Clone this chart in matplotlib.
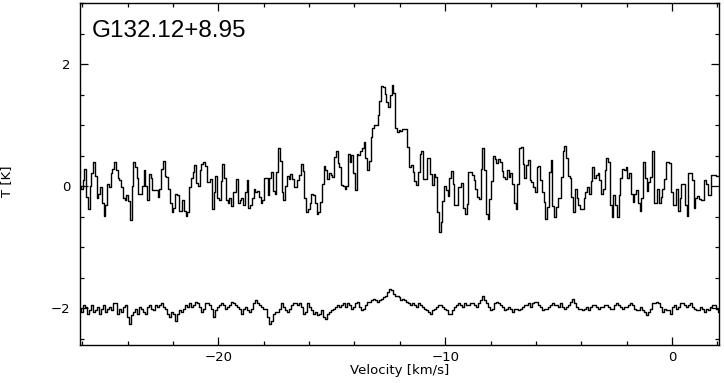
import numpy as np
import matplotlib
matplotlib.use("Agg")
import matplotlib.pyplot as plt
from matplotlib.ticker import MultipleLocator

# ---------------- data ----------------
title = "G132.12+8.95"
v_start = -26.1          # km/s, first channel
v_end = 2.07             # km/s, last channel

# upper spectrum, T [K]
t_upper = [
    0.00, -0.05, 0.10, 0.28, -0.17, -0.37, 0.00, 0.22, 0.40, 0.17,
    -0.20, -0.13, -0.02, -0.27, -0.48, -0.30, 0.04, -0.02, 0.22, 0.28,
    0.40, 0.27, 0.13, 0.10, -0.02, -0.20, -0.23, -0.15, -0.25, -0.56,
    0.00, 0.39, 0.31, 0.14, -0.12, -0.12, 0.00, 0.26, 0.00, -0.23,
    0.20, 0.13, -0.07, -0.07, -0.07, -0.17, -0.05, 0.28, 0.42, 0.16,
    0.15, -0.04, -0.27, -0.42, -0.36, -0.12, -0.15, -0.40,
    -0.40, -0.23, -0.40, -0.48, -0.43, -0.02, 0.14, 0.24, 0.35, 0.05,
    0.00, 0.26, 0.36, 0.40, 0.33, 0.07, 0.07, 0.11, -0.37, -0.10,
    0.17, -0.20, -0.23, 0.08, 0.37, 0.13, -0.23, -0.27, -0.20, -0.32,
    -0.10, -0.10, 0.12, -0.27, -0.22, -0.20, -0.30, -0.10, 0.10, -0.35,
    -0.30, -0.20, -0.05, -0.10, -0.08, -0.17, -0.27, -0.22, 0.14, 0.13,
    -0.15, 0.13, 0.24, -0.08, -0.12, 0.24, 0.62, 0.42, -0.10, -0.23,
    0.00, 0.17, 0.12,
    0.20, 0.11, -0.02, -0.02, 0.10, 0.18, 0.36, 0.25, -0.19, -0.42,
    -0.37, -0.28, -0.12, -0.15, -0.27, -0.46, -0.42, -0.26, 0.03, 0.33,
    0.26, 0.11, 0.21, 0.18, 0.15, 0.48, 0.57, 0.38, 0.32, 0.02,
    0.00, -0.05, 0.00, 0.52, 0.39, 0.51, 0.21, -0.07, 0.52, 0.51,
    0.58, 0.62, 0.73, 0.47, 0.26, 0.41, 0.81, 0.96, 1.00, 1.01,
    1.16, 1.40, 1.64, 1.63, 1.51, 1.38, 1.30, 1.49, 1.66, 1.52,
    0.95, 0.89,
    0.92, 0.91, 0.93, 0.93, 0.93, 0.64, 0.31, 0.34, 0.23, 0.09,
    0.02, 0.23, 0.52, 0.57, 0.11, 0.11, 0.47, 0.47, 0.20, 0.02,
    0.20, 0.15, -0.43, -0.75, -0.59, -0.24, 0.00, -0.07, -0.16, 0.13,
    0.25, 0.04, -0.30, -0.31, -0.02, -0.02, 0.05, -0.35, -0.45, -0.29,
    0.23, 0.23, 0.18, 0.10, -0.04, -0.17, -0.21, 0.29, 0.63, 0.26,
    -0.45, -0.53, -0.21, 0.08, 0.49, 0.45, 0.38, 0.45, 0.40, 0.25,
    0.15, 0.11,
    0.26, 0.15, 0.22, 0.04, -0.27, -0.37, 0.04, 0.62, 0.64, 0.37,
    0.13, 0.34, 0.43, 0.10, 0.07, -0.01, -0.10, 0.32, 0.33, 0.10,
    -0.09, -0.26, -0.53, -0.34, 0.24, 0.43, -0.33, -0.50, -0.34, -0.20,
    -0.19, 0.15, 0.57, 0.66, 0.47, 0.17, 0.14, -0.17, -0.42, -0.05,
    -0.19, -0.31, -0.37, -0.37, -0.20, -0.10, -0.01, -0.13, 0.09, 0.32,
    0.14, 0.18, 0.21, 0.10, -0.12, -0.04, 0.26, 0.47, 0.40, -0.30,
    -0.50, -0.15,
    -0.31, -0.50, -0.15, 0.14, 0.29, 0.26, 0.32, 0.14, 0.22, -0.13,
    -0.26, -0.12, -0.07, -0.27, -0.41, -0.20, 0.39, 0.13, -0.08, 0.07,
    0.15, 0.58, -0.27, -0.27, -0.05, -0.27, -0.17, -0.05, 0.11, 0.40,
    0.40, 0.38, -0.10, -0.31, -0.31, -0.04, -0.41, -0.20, 0.03, 0.03,
    -0.31, -0.48, 0.22, 0.22, 0.10, -0.35, -0.20, -0.16, -0.21, -0.22,
    -0.22, 0.10, 0.04, -0.15, -0.15, 0.18, 0.19, 0.19, 0.17, 0.17,
]

# lower spectrum, T [K]
t_lower = [
    -2.01, -2.06, -1.95, -1.98, -2.09, -2.03, -1.95, -2.06, -2.03, -1.98,
    -2.09, -2.01, -1.95, -2.06, -2.01, -1.98, -2.03, -1.92, -1.92, -2.09,
    -2.01, -2.06, -1.98, -1.95, -2.14, -2.25,
    -2.11, -2.06, -2.01, -2.09, -1.98, -2.01, -2.06, -2.09, -1.98, -1.95,
    -2.01, -2.03, -1.95, -1.98, -1.95, -1.92, -1.98, -2.01, -2.09, -2.14,
    -2.06, -2.09, -2.20, -2.09, -2.03, -2.06, -2.01, -1.95, -1.98, -1.92,
    -1.98, -1.95, -1.90, -1.92, -1.98, -2.06, -2.01, -1.92, -1.92, -1.95,
    -2.01, -2.14, -2.03, -1.98, -1.95, -1.92, -1.95, -2.01, -1.98, -1.95,
    -1.90, -1.92, -1.95, -1.98, -2.01, -2.09, -2.01, -1.98, -2.03, -2.06,
    -2.01, -1.92, -1.87, -1.92, -1.95, -1.98, -2.01, -2.01, -2.14, -2.25,
    -2.20, -2.09, -2.06, -2.06, -2.01, -1.92, -1.98, -2.03, -2.06, -2.01,
    -1.95, -1.92, -1.92,
    -1.95, -1.92, -1.98, -2.09, -2.06, -1.92, -1.98, -2.03, -2.09, -2.06,
    -2.11, -2.09, -2.03, -2.14, -2.17, -2.09, -2.06, -2.03, -2.01, -1.98,
    -1.95, -1.98, -1.95, -1.92, -1.98, -1.92, -1.95, -2.01, -1.98, -1.92,
    -1.90, -1.98, -2.03, -2.01, -1.95, -1.90, -1.90, -1.87, -1.84, -1.87,
    -1.90, -1.87, -1.84, -1.81, -1.79, -1.73, -1.68, -1.70, -1.76, -1.79,
    -1.79, -1.81, -1.87, -1.84, -1.87, -1.90, -1.92, -1.95, -1.92, -1.95,
    -1.98, -1.92, -1.95, -1.98, -2.01, -2.03, -2.06, -2.09, -2.03, -2.01,
    -1.98, -1.95, -1.95, -1.98, -2.01, -2.03, -2.09, -2.09, -2.03, -1.98,
    -1.95, -1.92, -1.95, -1.98, -1.92, -1.95, -1.95, -1.92, -1.92, -1.95,
    -1.98, -1.92, -1.87, -1.79, -1.87, -1.92, -1.98, -2.03, -2.01, -1.92,
    -1.90, -1.92, -1.95, -1.98, -2.03, -2.01, -1.98, -2.01, -2.06,
    -2.01, -2.01, -2.03, -2.01, -1.98, -1.95, -1.95, -1.92, -1.98, -1.92,
    -1.90, -1.90, -1.95, -1.98, -2.03, -2.01, -2.01, -1.98, -1.95, -1.92,
    -1.95, -1.95, -1.98, -1.92, -1.98, -2.01, -1.98, -1.95, -1.90, -1.84,
    -1.92, -1.98, -2.01, -2.01, -2.03, -2.01, -1.98, -2.03, -1.98, -1.95,
    -1.95, -1.98, -2.01, -1.98, -1.98, -1.95, -1.95, -1.98, -2.01, -2.01,
    -1.95, -1.92, -1.95, -1.98, -2.01, -1.98, -1.98, -1.95, -1.92, -1.95,
    -2.01, -2.03, -2.03, -1.98, -2.03, -2.06, -2.11, -2.06, -2.01, -1.92,
    -1.92, -1.90, -1.92, -1.98, -2.06, -2.01, -2.03, -2.03, -2.09, -1.98,
    -1.95, -2.01, -1.98, -1.92, -1.92, -1.95, -1.98, -1.95, -1.92, -1.98,
    -2.01, -2.03, -2.03, -1.98, -2.01, -2.06, -2.01, -2.03, -1.98, -1.95,
    -1.95, -2.01, -2.06,
]

x_ticks = [-20, -10, 0]
y_ticks = [-2, 0, 2]
x_label = "Velocity [km/s]"
y_label = "T [K]"

# ---------------- plot ----------------
v_up = np.linspace(v_start, v_end, len(t_upper))
v_lo = np.linspace(v_start, v_end, len(t_lower))

fig = plt.figure(figsize=(7.24, 3.83), dpi=100)
ax = fig.add_axes([80 / 724, 38 / 383, 639 / 724, 342 / 383])

ax.plot(v_up, t_upper, drawstyle="steps-mid", color="black", lw=1.0)
ax.plot(v_lo, t_lower, drawstyle="steps-mid", color="black", lw=1.0)

ax.set_xlim(-26.1, 2.07)
ax.set_ylim(-2.6, 3.0)

ax.set_xticks(x_ticks)
ax.set_yticks(y_ticks)
ax.xaxis.set_minor_locator(MultipleLocator(2))
ax.yaxis.set_minor_locator(MultipleLocator(0.5))
ax.set_xticklabels([f"\u2212{abs(t)}" if t < 0 else f"{t}" for t in x_ticks])
ax.set_yticklabels([f"\u2212{abs(t)}" if t < 0 else f"{t}" for t in y_ticks])
ax.tick_params(which="both", direction="in", top=True, right=True,
               width=0.9, colors="black", labelsize=9.5)
ax.tick_params(which="major", length=6)
ax.tick_params(which="minor", length=3)
ax.tick_params(axis="x", which="major", pad=4)
ax.tick_params(axis="y", which="major", pad=7)
for s in ax.spines.values():
    s.set_linewidth(1.0)

ax.set_xlabel(x_label, fontsize=9.5, labelpad=0)
ax.set_ylabel(y_label, fontsize=9.5)
ax.yaxis.set_label_coords(-0.105, 0.48)

ax.text(0.019, 0.90, title, transform=ax.transAxes, fontsize=17.5,
        family="Liberation Sans", ha="left", va="baseline")

fig.savefig("out.png", dpi=100)
